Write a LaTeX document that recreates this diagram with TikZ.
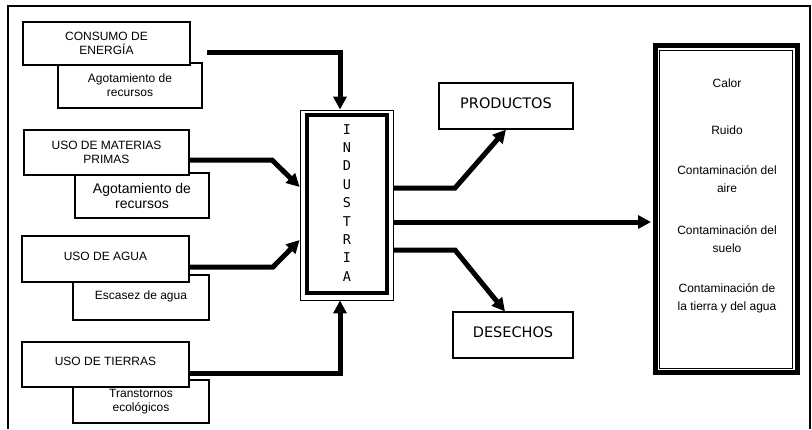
\documentclass[tikz,border=0pt]{standalone}
\usepackage{fontspec}
\setmainfont{Liberation Sans}
\newfontfamily\vfont{DejaVu Sans}
\newfontfamily\indfont{DejaVu Sans Mono}
\usetikzlibrary{arrows.meta}
\begin{document}
\begin{tikzpicture}[x=1pt,y=-1pt,
  box/.style={draw, line width=1.2pt, fill=white, inner sep=0pt, align=center,
    font=\fontsize{12}{14}\selectfont},
  flow/.style={line width=5pt, -{Triangle[length=13pt,width=13pt]}},
]
\useasboundingbox (0,0) rectangle (812,429);
\draw[line width=1.2pt] (8,429) -- (8,6) -- (810,6) -- (810,429);

% sub boxes (behind)
\node[box, minimum width=144pt, minimum height=45pt] (a1) at (130,85.5)
  {\raisebox{-3pt}{\parbox{140pt}{\centering Agotamiento de\\recursos}}};
\node[box, minimum width=134pt, minimum height=45pt, font=\fontsize{14}{15}\selectfont] (a2) at (142,195.5)
  {Agotamiento de\\recursos};
\node[box, minimum width=136pt, minimum height=45pt] (esc) at (141,297.5)
  {\raisebox{5.5pt}{Escasez de agua}};
\node[box, minimum width=136pt, minimum height=43pt] (tra) at (141,401.5)
  {Transtornos\\ecológicos};

% main boxes
\node[box, minimum width=167pt, minimum height=43pt] (cons) at (106.5,43.5)
  {\raisebox{-3pt}{\parbox{150pt}{\centering CONSUMO DE\\ENERGÍA}}};
\node[box, minimum width=165pt, minimum height=45pt] (mat) at (106.5,152.5)
  {USO DE MATERIAS\\PRIMAS};
\node[box, minimum width=167pt, minimum height=46pt] (agua) at (105.5,259)
  {\raisebox{6pt}{USO DE AGUA}};
\node[box, minimum width=167pt, minimum height=45pt] (tie) at (105.5,364.5)
  {\raisebox{6.5pt}{USO DE TIERRAS}};

% industria
\node[draw, line width=0.8pt, minimum width=93pt, minimum height=190pt, inner sep=0pt] (ind) at (346.5,205) {};
\node[draw, line width=3.5pt, minimum width=80pt, minimum height=178pt, inner sep=0pt] (indin) at (347,204)
  {\indfont\fontsize{13.5}{18.4}\selectfont\begin{tabular}{@{}c@{}}I\\N\\D\\U\\S\\T\\R\\I\\A\end{tabular}};

% outputs
\node[box, minimum width=134pt, minimum height=46pt, font=\vfont\fontsize{14.5}{16}\selectfont] (prod) at (506,106)
  {\raisebox{6pt}{PRODUCTOS}};
\node[box, minimum width=120pt, minimum height=46pt, font=\vfont\fontsize{14.5}{16}\selectfont] (des) at (513,335)
  {\raisebox{5pt}{DESECHOS}};

% effects box
\node[draw, line width=5pt, minimum width=142pt, minimum height=327pt, inner sep=0pt] (eff) at (726.5,209) {};
\node[draw, line width=0.8pt, minimum width=132.5pt, minimum height=318pt, inner sep=0pt] (effin) at (725.75,209) {};
\node[anchor=north, inner sep=0pt, align=center, font=\fontsize{12}{18}\selectfont] (efftext) at (727,78.5)
  {Calor\\[29pt]Ruido\\[22pt]Contaminación del\\aire\\[24pt]Contaminación del\\suelo\\[22pt]Contaminación de\\la tierra y del agua};

% connectors
\coordinate (c1) at (207,52);
\draw[flow] (c1) -| ([xshift=-6.5pt]ind.north);
\draw[flow] ([yshift=-7.5pt]mat.east) -- (272,160) -- (ind.west |- 0,187);
\draw[flow] ([yshift=-8pt]agua.east) -- (273,267) -- (ind.west |- 0,240);
\draw[flow] ([yshift=-8.5pt]tie.east) -| ([xshift=-6.5pt]ind.south);
\draw[flow] (ind.east |- 0,188) -- (455,188) -- (prod.south);
\draw[flow, shorten >=2pt] (ind.east |- 0,222) -- (eff.west |- 0,222);
\draw[flow] (ind.east |- 0,250) -- (455,250) -- ([xshift=-8pt]des.north);
\end{tikzpicture}
\end{document}
